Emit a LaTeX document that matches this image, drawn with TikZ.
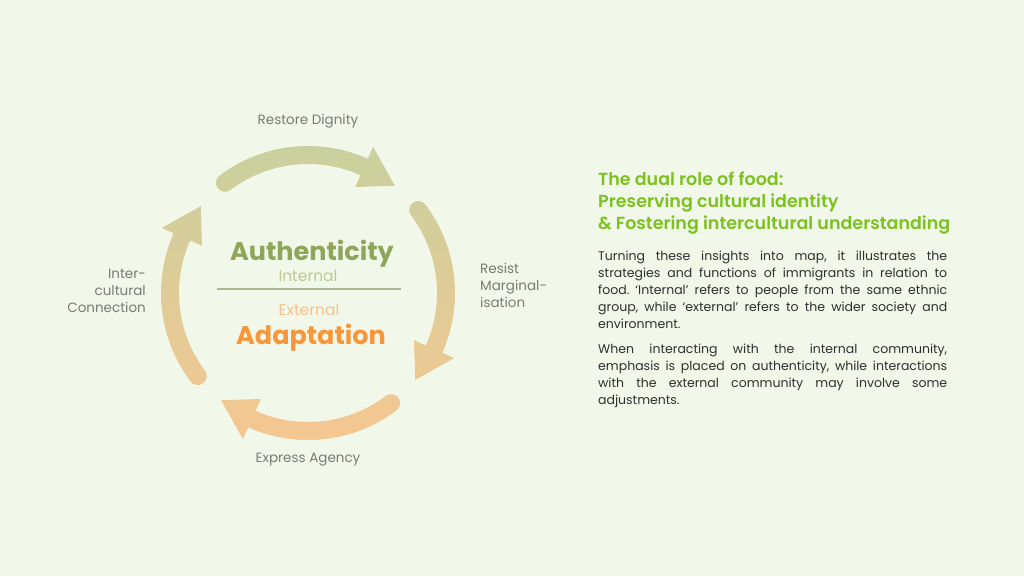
\documentclass[tikz,border=0pt]{standalone}
\usepackage{fontspec}
\setmainfont{Poppins}
\newfontfamily\semibold{Poppins SemiBold}
\usepackage{tikz}
\usetikzlibrary{positioning}

\definecolor{bgcol}{HTML}{F1F8E9}
\definecolor{arrowgreen}{HTML}{C6D19F}
\definecolor{arrowtan}{HTML}{F8C690}
\definecolor{labelgrey}{HTML}{7A7B73}
\definecolor{authgreen}{HTML}{8FA55A}
\definecolor{intgreen}{HTML}{B9CB94}
\definecolor{extorange}{HTML}{F8C08C}
\definecolor{adaptorange}{HTML}{F8963B}
\definecolor{titlegreen}{HTML}{7CC21F}
\definecolor{bodytext}{HTML}{2E2E2E}

\tikzset{
  steplabel/.style={inner sep=0pt, text=labelgrey, font=\fontsize{13.5}{16.8}\selectfont},
  bigword/.style={inner sep=0pt, font=\bfseries\fontsize{25.5}{30}\selectfont},
  sideword/.style={inner sep=0pt, font=\fontsize{15.5}{18}\selectfont},
  bodypara/.style={inner sep=0pt, text=bodytext, text width=349pt, align=justify,
    font=\fontsize{12.5}{17}\selectfont}
}

\begin{document}
\hyphenpenalty=10000
\frenchspacing
\begin{tikzpicture}[x=1pt, y=1pt]
			\useasboundingbox (0,0) rectangle (1024,576);
			\fill[bgcol] (0,0) rectangle (1024,576);
			
			% four arrows of the cycle, one shading
			\begin{scope}[shift={(308,283)}]
				\clip \foreach \k [evaluate=\k as \a using 127-90*\k,
				                   evaluate=\k as \b using 66-90*\k,
				                   evaluate=\k as \t using 51-90*\k] in {0,1,2,3} {
					(\a:147) arc[start angle=\a, end angle=\b, radius=147]
					-- (\b:160) -- (\t:138) -- (\b:116) -- (\b:129)
					arc[start angle=\b, end angle=\a, radius=129]
					arc[start angle=\a+180, end angle=\a, radius=9] -- cycle
				};
				\shade[top color=arrowgreen, bottom color=arrowtan] (-165,-165) rectangle (165,165);
			\end{scope}
			
			\node[steplabel, anchor=base] (dignity) at (308,451) {Restore Dignity};
			\node[steplabel, anchor=north west, align=left] (resist) at (480,313) {Resist\\Marginal-\\isation};
			\node[steplabel, anchor=base] (agency) at (308,114) {Express Agency};
			\node[steplabel, anchor=north east, align=right] (connection) at (146,307) {Inter-\\cultural\\Connection};
			
			\node[bigword, text=authgreen, anchor=base] (auth) at (312,315) {Authenticity};
			\node[sideword, text=intgreen, anchor=base] (internal) at (308,294) {Internal};
			\coordinate (divl) at (217,287);
			\coordinate (divr) at (401,287);
			\draw[line width=1.5pt, draw=authgreen!70!labelgrey!70] (divl) -- (divr);
			\node[sideword, text=extorange, anchor=base] (external) at (309,261) {External};
			\node[bigword, text=adaptorange, anchor=base] (adapt) at (311,232) {Adaptation};
			
			\node[inner sep=0pt, anchor=north west, align=left, text=titlegreen,
			      font=\semibold\fontsize{17.5}{22}\selectfont] (title) at (598,404)
			      {The dual role of food:\\Preserving cultural identity\\\& Fostering intercultural understanding};
			\node[bodypara, anchor=north west] (para1) at (598,325)
			      {Turning these insights into map, it illustrates the\linebreak
			       strategies and functions of immigrants in relation to\linebreak
			       food. ‘Internal’ refers to people from the same ethnic\linebreak
			       group, while ‘external’ refers to the wider society and\linebreak
			       environment.};
			\node[bodypara, below=15pt of para1] (para2)
			      {When interacting with the internal community,\linebreak
			       emphasis is placed on authenticity, while interactions\linebreak
			       with the external community may involve some\linebreak
			       adjustments.};
		\end{tikzpicture}
\end{document}
